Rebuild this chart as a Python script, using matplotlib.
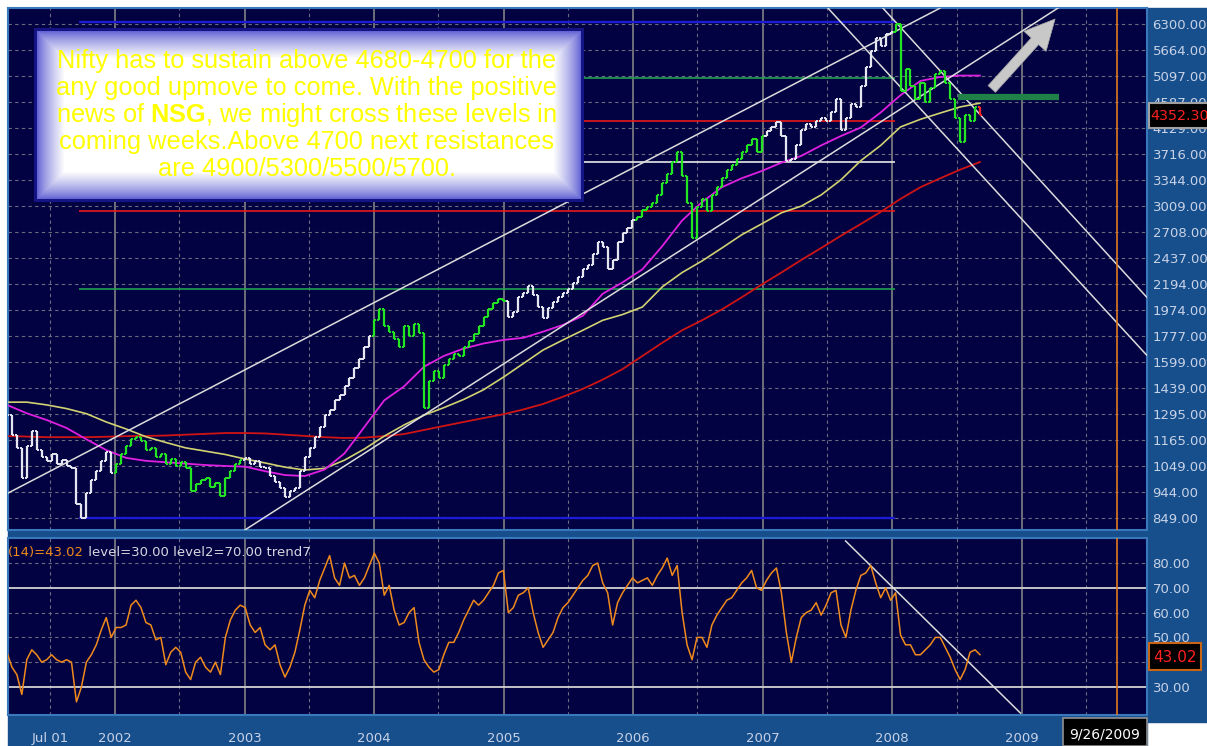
import numpy as np
import pandas as pd
import matplotlib
matplotlib.use('Agg')
import matplotlib.pyplot as plt
import matplotlib.dates as mdates
from matplotlib.patches import Rectangle
from matplotlib.ticker import NullLocator

W, H = 1207, 746

# ---------------- data ----------------
start_date = '2001-03-02'          # two-weekly bars
closes = [
    1290, 1190, 1130, 1000, 1140, 1210, 1120, 1090, 1070, 1100, 1060, 1075, 1050,
    1040, 900, 850, 940, 990, 1030, 1070, 1110, 1020, 1060, 1100, 1140, 1170,
    1180, 1160, 1120, 1130, 1090, 1100, 1060, 1080, 1050, 1065, 1040, 950, 975,
    990, 1000, 965, 980, 930, 1000, 1030, 1060, 1075, 1085, 1060, 1070, 1045,
    1040, 1010, 985, 960, 925, 950, 960, 1030, 1090, 1130, 1180, 1230, 1290,
    1320, 1370, 1400, 1450, 1500, 1560, 1620, 1700, 1780, 1900, 1980, 1850, 1810,
    1760, 1700, 1850, 1780, 1870, 1800, 1330, 1480, 1540, 1500, 1580, 1620, 1650,
    1640, 1700, 1740, 1790, 1850, 1920, 1980, 2030, 2070, 2050, 1920, 1960, 2080,
    2120, 2180, 2100, 2000, 1910, 1990, 2040, 2080, 2120, 2150, 2200, 2260, 2330,
    2370, 2480, 2600, 2550, 2330, 2420, 2600, 2700, 2760, 2840, 2880, 2960, 3000,
    3050, 3150, 3300, 3430, 3600, 3750, 3400, 3050, 2650, 3000, 3100, 2950, 3150,
    3250, 3380, 3480, 3560, 3650, 3750, 3850, 3950, 3750, 4000, 4080, 4150, 4230,
    4000, 3620, 3650, 3850, 4100, 4200, 4150, 4250, 4300, 4250, 4400, 4650, 4100,
    4300, 4550, 4500, 4900, 5300, 5650, 5950, 5750, 6050, 6100, 6300, 4800, 5250,
    4900, 4650, 4950, 4600, 4850, 5150, 5200, 4950, 4650, 4300, 3900, 4350, 4250,
    4500, 4352.3,
]
rsi = [
    44, 38, 35, 27, 41, 45, 43, 40, 41, 43, 41, 40, 41,
    40, 24, 30, 40, 43, 47, 53, 58, 50, 54, 54, 55, 63,
    65, 62, 56, 55, 49, 50, 39, 44, 46, 44, 36, 33, 40,
    42, 38, 36, 40, 35, 50, 57, 61, 63, 62, 55, 52, 54,
    47, 45, 47, 39, 34, 38, 44, 53, 63, 69, 66, 73, 78,
    83, 74, 71, 80, 74, 75, 71, 74, 79, 84, 80, 67, 71,
    61, 55, 56, 60, 62, 48, 41, 38, 36, 37, 43, 48, 48,
    52, 57, 61, 65, 63, 65, 68, 71, 76, 77, 60, 62, 67,
    68, 70, 60, 52, 46, 49, 52, 58, 62, 64, 67, 70, 73,
    75, 79, 80, 72, 68, 55, 64, 68, 71, 74, 72, 73, 74,
    71, 75, 78, 82, 75, 79, 60, 47, 41, 50, 50, 46, 55,
    59, 62, 65, 66, 69, 72, 74, 77, 70, 69, 73, 76, 78,
    68, 52, 40, 50, 58, 60, 61, 64, 59, 63, 68, 69, 55,
    50, 61, 69, 75, 76, 79, 72, 66, 70, 65, 68, 51, 47,
    47, 43, 43, 45, 47, 50, 50, 46, 42, 37, 33, 37, 44,
    45, 43.02,
]
# moving averages, one reading every 8 weeks
ma_fast = [1345, 1300, 1265, 1225, 1170, 1120, 1085, 1072, 1066, 1060, 1054, 1050, 1047,
           1028, 1012, 1008, 1035, 1105, 1230, 1370, 1450, 1570, 1640, 1690, 1725, 1750,
           1765, 1810, 1860, 1930, 2110, 2210, 2330, 2560, 2840, 3060, 3250, 3370, 3470,
           3590, 3690, 3850, 4000, 4140, 4400, 4720, 5000, 5080, 5110, 5110]
ma_mid = [1360, 1360, 1345, 1325, 1298, 1255, 1220, 1182, 1155, 1130, 1115, 1100, 1080,
          1063, 1045, 1033, 1040, 1075, 1125, 1185, 1240, 1290, 1330, 1375, 1430, 1505,
          1590, 1680, 1750, 1820, 1895, 1940, 2000, 2170, 2300, 2410, 2540, 2680, 2800,
          2930, 3010, 3150, 3350, 3620, 3850, 4150, 4280, 4390, 4500, 4570]
ma_slow = [1185, 1183, 1180, 1180, 1180, 1182, 1185, 1186, 1188, 1192, 1196, 1200, 1200,
           1198, 1192, 1186, 1180, 1176, 1178, 1185, 1195, 1215, 1235, 1255, 1275, 1295,
           1320, 1350, 1390, 1435, 1490, 1555, 1640, 1730, 1820, 1895, 1980, 2080, 2190,
           2300, 2420, 2540, 2670, 2800, 2940, 3100, 3250, 3370, 3490, 3600]

price_ticks = [849, 944, 1049, 1165, 1295, 1439, 1599, 1777, 1974, 2194,
               2437, 2708, 3009, 3344, 3716, 4129, 4587, 5097, 5664, 6300]
rsi_grid = [30, 40, 50, 60, 70, 80]
rsi_labels = [30, 50, 60, 70, 80]    # 40 sits behind the value box
rsi_levels = [30, 70]

# Fibonacci levels between the 2001 low and the 2008 high
fib_levels = [6357, 5057, 4253, 3603, 2954, 2150, 850]
fib_span = ['2001-09-21', '2008-01-08']

# trend lines: (date, value) pairs
channel_up = [('2001-03-04', 940), ('2008-05-16', 6720)]
channel_low = [('2003-01-02', 810), ('2009-04-18', 6750)]
down_1 = [('2007-07-04', 6720), ('2009-12-19', 1646)]
down_2 = [('2007-12-06', 6720), ('2009-12-19', 2082)]
rsi_trend = [('2007-08-23', 88.9), ('2008-12-28', 19.5)]
target_level = 4690
target_span = ['2008-07-05', '2009-04-16']
arrow_pts = [('2008-10-03', 4800), ('2009-04-10', 6480)]
cursor_date = '2009-09-26'
last_price = '4352.30'
last_rsi = '43.02'

note_lines = [
    'Nifty has to sustain above 4680-4700 for the',
    'any good upmove to come. With the positive',
    r'news of $\mathbf{NSG}$, we might cross these levels in',
    'coming weeks.Above 4700 next resistances',
    'are 4900/5300/5500/5700.',
]

# ---------------- style ----------------
BG = '#020242'
STRIP = '#174f8d'
EDGE = '#3a78bc'
TICKC = '#c8d2e6'
GRID = '#6c6c80'

plt.rcParams['mathtext.fontset'] = 'custom'
plt.rcParams['mathtext.rm'] = 'Liberation Sans'
plt.rcParams['mathtext.bf'] = 'Liberation Sans:bold'


def dn(s):
    return mdates.date2num(pd.Timestamp(s))


def px_rect(x0, y0, x1, y1, **kw):
    return Rectangle((x0 / W, 1 - y1 / H), (x1 - x0) / W, (y1 - y0) / H,
                     transform=fig.transFigure, **kw)


fig = plt.figure(figsize=(W / 100, H / 100), dpi=100, facecolor='white')

# blue frame strips behind the panels
fig.add_artist(px_rect(1147, 8, 1207, 722, color=STRIP, zorder=-2))
fig.add_artist(px_rect(8, 715, 1147, 746, color=STRIP, zorder=-2))
fig.add_artist(px_rect(8, 530, 1207, 538, color=STRIP, zorder=-2))

ax = fig.add_axes([8 / W, 1 - 530 / H, 1139 / W, 522 / H])
ax2 = fig.add_axes([8 / W, 1 - 715 / H, 1139 / W, 177 / H])

xmin, xmax = dn('2001-03-05'), dn('2009-12-20')
years = list(range(2002, 2010))
halves = ['%d-07-01' % y for y in range(2001, 2010)]

for a in (ax, ax2):
    a.set_facecolor(BG)
    a.set_xlim(xmin, xmax)
    for s in a.spines.values():
        s.set_color(EDGE)
        s.set_linewidth(1.5)
    for y in years:
        a.axvline(dn('%d-01-01' % y), color='#8a8a8a', lw=1.1, zorder=1)
    for h in halves:
        a.axvline(dn(h), color=GRID, lw=0.8, ls=(0, (3, 3)), zorder=1)
    a.axvline(dn(cursor_date), color='#e07a1e', lw=1.2, zorder=6)

# ---------------- price panel ----------------
ax.set_yscale('log')
ax.set_ylim(810, 6720)
ax.yaxis.set_minor_locator(NullLocator())
ax.yaxis.tick_right()
ax.set_yticks(price_ticks, labels=['%.2f' % v for v in price_ticks])
ax.tick_params(axis='y', length=0, pad=4, labelcolor=TICKC, labelsize=9.5)
ax.set_xticks([])
for v in price_ticks:
    ax.axhline(v, color=GRID, lw=0.8, ls=(0, (3, 3)), zorder=1)

dates = pd.date_range(start_date, periods=len(closes), freq='14D')
dnum = mdates.date2num(dates)
opens = [closes[0]] + closes[:-1]
cols = []
for i, d in enumerate(dates):
    if i == len(dates) - 1:
        cols.append('#ff2424')
    elif d.year % 2 == 0:
        cols.append('#22e622')
    else:
        cols.append('#e6e6f0')
lo = np.minimum(opens, closes)
hi = np.maximum(opens, closes)
ax.vlines(dnum, lo, hi, colors=cols, lw=1.6, zorder=4)
ax.hlines(opens, dnum - 6, dnum, colors=cols, lw=1.4, zorder=4)
ax.hlines(closes, dnum, dnum + 6, colors=cols, lw=1.4, zorder=4)

ma_dates = dnum[::4][:len(ma_fast)]
ax.plot(ma_dates, ma_slow, color='#d01414', lw=1.3, zorder=3)
ax.plot(ma_dates, ma_mid, color='#d2d272', lw=1.2, zorder=3)
ax.plot(ma_dates, ma_fast, color='#e020e0', lw=1.3, zorder=3)

fib_cols = ['#1c1cd8', '#22a050', '#e81818', '#e8e8e8', '#e81818', '#22a050', '#1c1cd8']
for lvl, c in zip(fib_levels, fib_cols):
    ax.hlines(lvl, dn(fib_span[0]), dn(fib_span[1]), color=c,
              lw=1.6 if c == '#1c1cd8' else 1.2, zorder=2)

for line in (channel_up, channel_low, down_1, down_2):
    ax.plot([dn(p[0]) for p in line], [p[1] for p in line], color='#dcdcdc', lw=1.1, zorder=3)

ax.hlines(target_level, dn(target_span[0]), dn(target_span[1]), color='#1f8048', lw=4.5, zorder=5)
ax.annotate('', xy=(dn(arrow_pts[1][0]), arrow_pts[1][1]),
            xytext=(dn(arrow_pts[0][0]), arrow_pts[0][1]),
            arrowprops=dict(arrowstyle='simple,head_width=1.35,head_length=1.35,tail_width=0.45',
                            fc='#c8c8c8', ec='#a8a8a8', lw=0.5, mutation_scale=16), zorder=6)

# ---------------- RSI panel ----------------
ax2.set_ylim(18.7, 90.1)
ax2.yaxis.tick_right()
ax2.set_yticks(rsi_labels, labels=['%.2f' % v for v in rsi_labels])
ax2.tick_params(axis='y', length=0, pad=4, labelcolor=TICKC, labelsize=9.5)
for v in rsi_grid:
    if v not in rsi_levels:
        ax2.axhline(v, color=GRID, lw=0.8, ls=(0, (3, 3)), zorder=1)
for v in rsi_levels:
    ax2.axhline(v, color='#d2d2d2', lw=1.3, zorder=2)
ax2.plot(dnum[:len(rsi)], rsi, color='#f08a1c', lw=1.1, zorder=4)
ax2.plot([dn(p[0]) for p in rsi_trend], [p[1] for p in rsi_trend], color='#dcdcdc', lw=1.1, zorder=3)

xt = [dn('2001-07-01')] + [dn('%d-01-01' % y) for y in years]
xl = ['Jul 01'] + [str(y) for y in years]
ax2.set_xticks(xt, labels=xl)
ax2.tick_params(axis='x', length=0, pad=12, labelcolor=TICKC, labelsize=9.5)

t1 = ax2.text(0.0, 0.92, '(14)=43.02', transform=ax2.transAxes, color='#f08a1c',
              fontsize=9.5, va='center', ha='left', zorder=7)
ax2.annotate(' level=30.00 level2=70.00 trend7', xy=(1, 0.5), xycoords=t1,
             color='#d6d6e0', fontsize=9.5, va='center', ha='left', zorder=7)

# ---------------- value boxes ----------------
fig.add_artist(px_rect(1149, 103, 1210, 128, facecolor='black', edgecolor='#a0a0a0', lw=1.5, zorder=5))
fig.text(1150 / W, 1 - 116 / H, last_price, color='#ff2020', fontsize=10.3, va='center', ha='left', zorder=6)
fig.add_artist(px_rect(1149, 643, 1201, 670, facecolor='black', edgecolor='#c86414', lw=1.5, zorder=5))
fig.text(1175 / W, 1 - 657 / H, last_rsi, color='#ff2020', fontsize=11, va='center', ha='center', zorder=6)
fig.add_artist(px_rect(1063, 718, 1147, 746, facecolor='black', edgecolor='#909090', lw=1.2, zorder=5))
fig.text(1105 / W, 1 - 734 / H, '9/26/2009', color='white', fontsize=10, va='center', ha='center', zorder=6)

# ---------------- note box with glow ----------------
bx0, by0, bx1, by1 = 34, 28, 584, 202
bw, bh = bx1 - bx0, by1 - by0
tax = fig.add_axes([bx0 / W, 1 - by1 / H, bw / W, bh / H])
yy, xx = np.mgrid[0:bh, 0:bw]
d = np.minimum(np.minimum(xx, bw - 1 - xx), np.minimum(yy, bh - 1 - yy)).astype(float)
t = np.clip((d - 2) / 28, 0, 1) ** 0.75
edge = np.array([0.34, 0.34, 0.82])
img = edge[None, None, :] * (1 - t[..., None]) + t[..., None]
img[d < 3] = [0.08, 0.08, 0.52]
tax.imshow(img, extent=(0, 1, 0, 1), aspect='auto', interpolation='bilinear')
tax.set_xlim(0, 1)
tax.set_ylim(0, 1)
tax.axis('off')
for k, line in enumerate(note_lines):
    tax.text(0.496, 0.81 - k * 0.155, line, color='#ffff00', fontsize=18.3,
             family='Liberation Sans', ha='center', va='center')

fig.savefig('out.png', dpi=100, facecolor='white')
